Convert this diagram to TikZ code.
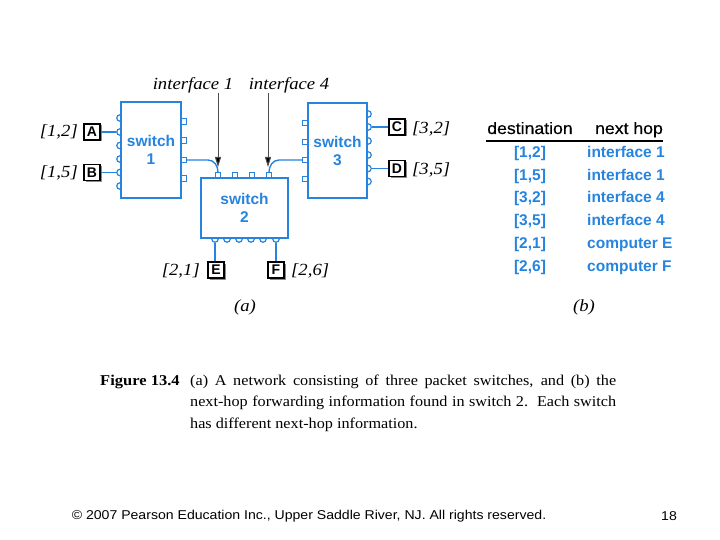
\documentclass[tikz,border=0pt]{standalone}
\usepackage{fontspec}
\setmainfont{Liberation Serif}
\newfontfamily\sansf{Liberation Sans}
\newfontfamily\headf{Liberation Sans}[FakeStretch=1.07,FakeBold=0.4]
\newfontfamily\footf{Liberation Sans}[FakeStretch=1.1]
\newfontfamily\itf{Liberation Serif}[FakeStretch=1.1]
\newfontfamily\capf{Liberation Serif}[FakeStretch=1.08]
\newfontfamily\capbf{Liberation Serif}[FakeStretch=1.1]
\usetikzlibrary{arrows.meta}
\definecolor{netblue}{RGB}{38,132,222}
\begin{document}
\begin{tikzpicture}[x=1pt,y=-1pt,
  swbox/.style={draw=netblue,line width=1.4pt,fill=white,inner sep=0pt,align=center,
     text=netblue,font=\sansf\bfseries\fontsize{15.5}{18}\selectfont},
  cport/.style={circle,draw=netblue,line width=1.2pt,fill=white,minimum size=6.5pt,inner sep=0pt},
  sport/.style={rectangle,draw=netblue,line width=1.2pt,fill=white,minimum size=5.5pt,inner sep=0pt},
  host/.style={draw=black,line width=1.2pt,fill=white,minimum size=16pt,inner sep=0pt,
     font=\sansf\bfseries\fontsize{14}{14}\selectfont,
     preaction={fill=black!45,transform canvas={shift={(1.5,1.5)}}}},
  link/.style={draw=netblue,line width=1.4pt},
  lab/.style={font=\itf\itshape\fontsize{17}{17}\selectfont,inner sep=0pt},
  ptr/.style={draw=black!70,line width=1pt,-{Triangle[length=10pt,width=6pt,fill=black]}},
  thead/.style={font=\headf\fontsize{16.5}{16}\selectfont,inner sep=0pt,anchor=base},
  tcell/.style={font=\sansf\bfseries\fontsize{15.5}{16}\selectfont,text=netblue,inner sep=0pt,anchor=base},
  captxt/.style={font=\capf\fontsize{15}{16}\selectfont,inner sep=0pt,anchor=base west}
]
\useasboundingbox (0,0) rectangle (720,540);

% ---- switch 1 ports (drawn first, box hides inner halves)
\foreach \i/\y in {1/118,2/132,3/145.5,4/159,5/172.5,6/186}
  \node[cport] (s1l\i) at (120,\y) {};
\foreach \i/\y in {1/121.5,2/140.5,3/160,4/178.5}
  \node[sport] (s1r\i) at (183.5,\y) {};
\node[swbox,minimum width=60pt,minimum height=96pt] (sw1) at (151,150) {switch\\1};

% ---- switch 3 ports
\foreach \i/\y in {1/123,2/142,3/160,4/179}
  \node[sport] (s3l\i) at (305.5,\y) {};
\foreach \i/\y in {1/114,2/127,3/141,4/155,5/168.5,6/181.5}
  \node[cport] (s3r\i) at (368,\y) {};
\node[swbox,minimum width=59pt,minimum height=95pt] (sw3) at (337.5,150.5) {switch\\3};

% ---- switch 2 ports
\foreach \i/\x in {1/218,2/235,3/252,4/269}
  \node[sport] (s2t\i) at (\x,175.5) {};
\foreach \i/\x in {1/215,2/227,3/239,4/251,5/263,6/276}
  \node[cport] (s2b\i) at (\x,239) {};
\node[swbox,minimum width=87pt,minimum height=60pt] (sw2) at (244.5,208) {switch\\2};

% ---- hosts
\node[host] (A) at (92,132) {A};
\node[host] (B) at (92,172.5) {B};
\node[host] (C) at (397,127) {C};
\node[host] (D) at (397,168.5) {D};
\node[host] (E) at (216,270) {E};
\node[host] (F) at (276,270) {F};

\draw[link] (A.east) -- (s1l2.west);
\draw[link] (B.east) -- (s1l5.west);
\draw[link] (s3r2.east) -- (C.west);
\draw[link] (s3r5.east) -- (D.west);
\draw[link] (s2b1.south) -- (E.north -| s2b1.south);
\draw[link] (s2b6.south) -- (F.north -| s2b6.south);
\draw[link] (s1r3.east) -- (208,160) to[out=0,in=90] (s2t1.north);
\draw[link] (s3l3.west) -- (279,160) to[out=180,in=90] (s2t4.north);

% ---- address labels
\node[lab,anchor=east] (l12) at (78,132) {[1,2]};
\node[lab,anchor=east] (l15) at (78,173) {[1,5]};
\node[lab,anchor=west] (l32) at (412,128.5) {[3,2]};
\node[lab,anchor=west] (l35) at (412,169.5) {[3,5]};
\node[lab,anchor=east] (l21) at (200,271) {[2,1]};
\node[lab,anchor=west] (l26) at (291,271) {[2,6]};

% ---- interface pointers
\node[lab] (if1) at (193,85.5) {interface 1};
\node[lab] (if4) at (289,85.5) {interface 4};
\coordinate (if1a) at (218,93);
\coordinate (if1b) at (218,167);
\coordinate (if4a) at (268,93);
\coordinate (if4b) at (268,167);
\draw[ptr] (if1a) -- (if1b);
\draw[ptr] (if4a) -- (if4b);

\node[lab] (pa) at (245,307) {(\textit{a})};
\node[lab] (pb) at (584,307) {(\textit{b})};

% ---- table
\node[thead] (h1) at (530,134) {destination};
\node[thead] (h2) at (629,134) {next hop};
\coordinate (tl) at (486,141);
\coordinate (tr) at (663,141);
\draw[line width=1.6pt] (tl) -- (tr);
\foreach \i/\y/\d/\n in {1/158/{[1,2]}/{interface 1},2/180.5/{[1,5]}/{interface 1},
   3/203/{[3,2]}/{interface 4},4/225.5/{[3,5]}/{interface 4},
   5/248.5/{[2,1]}/{computer E},6/271/{[2,6]}/{computer F}}{
  \node[tcell] (d\i) at (530,\y) {\d};
  \node[tcell,anchor=base west] (n\i) at (587,\y) {\n};
}

% ---- caption
\node[captxt,font=\capbf\bfseries\fontsize{15}{16}\selectfont] (c0) at (100,385) {Figure 13.4};
\node[captxt] (c1) at (190,385) {\makebox[426pt][s]{(a) A network consisting of three packet switches, and (b) the}};
\node[captxt] (c2) at (190,406.5) {\makebox[426pt][s]{next-hop forwarding information found in switch 2.\ \ Each switch}};
\node[captxt] (c3) at (190,428) {has different next-hop information.};

% ---- footer
\node[font=\footf\fontsize{12.8}{14}\selectfont,inner sep=0pt] (foot) at (309,516) {© 2007 Pearson Education Inc., Upper Saddle River, NJ. All rights reserved.};
\node[font=\footf\fontsize{12.8}{14}\selectfont,inner sep=0pt] (pg) at (669,516) {18};
\end{tikzpicture}
\end{document}
